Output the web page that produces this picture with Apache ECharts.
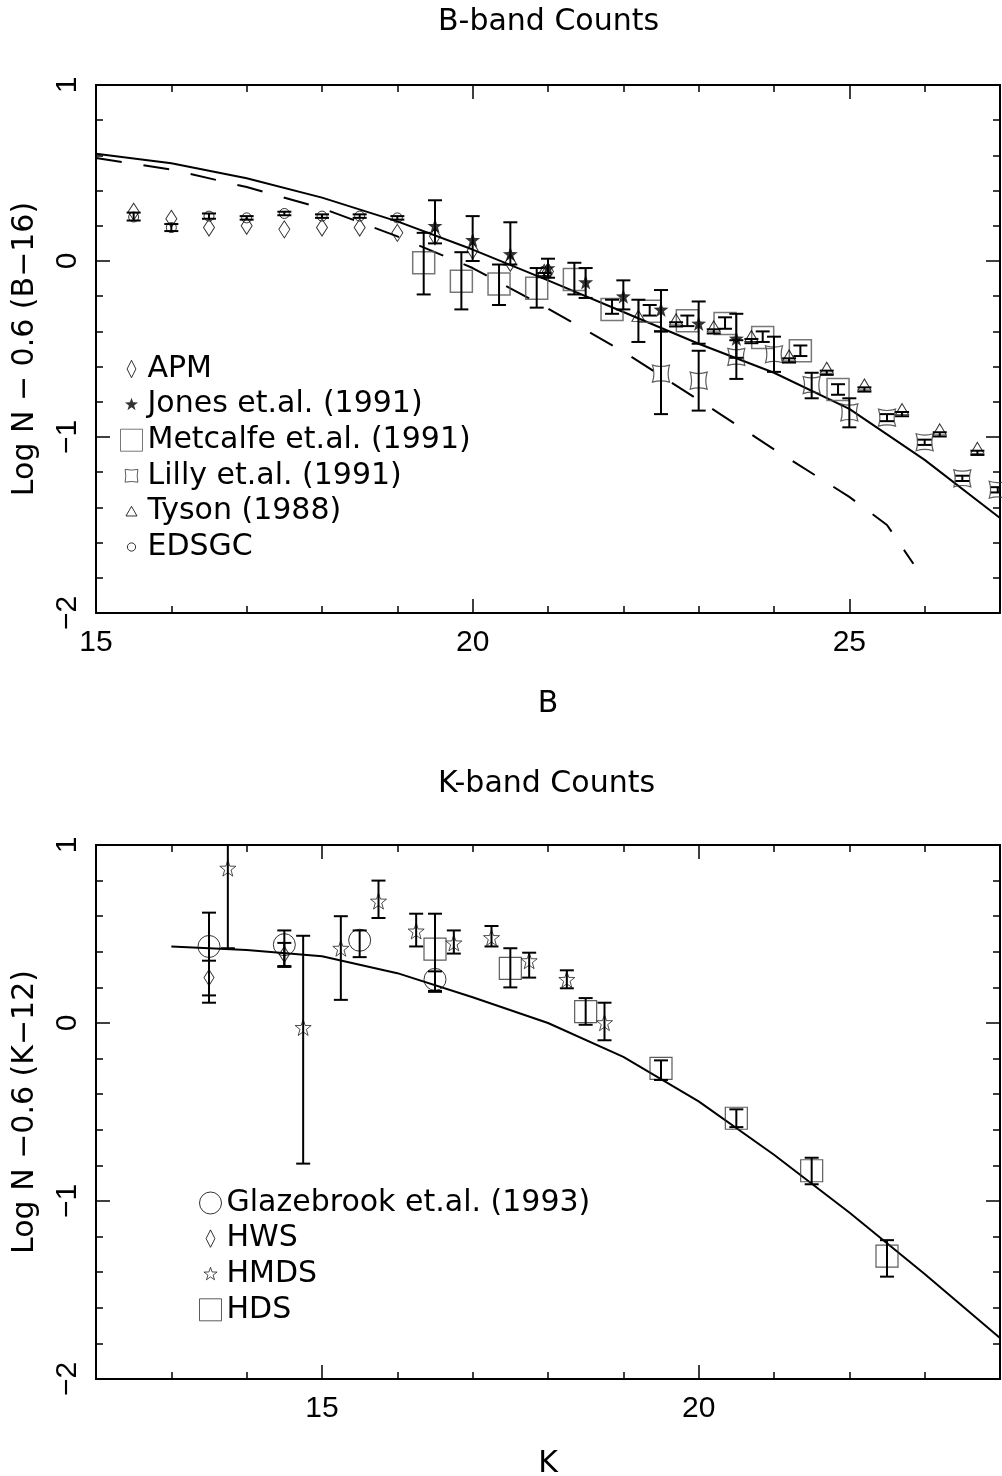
<!DOCTYPE html>
<html>
<head>
<meta charset="utf-8">
<script src="https://cdn.jsdelivr.net/npm/echarts@6/dist/echarts.min.js"></script>
<style>
  html, body { margin: 0; padding: 0; background: #fff; }
  #chart { width: 1002px; height: 1476px; }
</style>
</head>
<body>
<div id="chart"></div>
<script>
// ---------------- B-band counts: rows are [B, value, lower, upper] ----------------
const apm = [[15.5,0.28],[16,0.24],[16.5,0.19],[17,0.20],[17.5,0.18],[18,0.19],[18.5,0.19],[19,0.16],[19.5,0.14],[20,0.06],[20.5,-0.01],[21,-0.06]];
const edsgc = [[15.5,0.25,0.23,0.275],[16,0.19,0.17,0.21],[16.5,0.255,0.24,0.27],[17,0.245,0.235,0.255],[17.5,0.27,0.26,0.28],[18,0.255,0.245,0.265],[18.5,0.255,0.245,0.265],[19,0.245,0.235,0.255]];
const jones = [[19.5,0.20,0.10,0.345],[20,0.12,0.0,0.255],[20.5,0.04,-0.02,0.22],[21,-0.04,-0.095,0.013],[21.5,-0.12,-0.21,-0.04],[22,-0.2,-0.275,-0.11],[22.5,-0.275,-0.4,-0.165],[23,-0.355,-0.47,-0.23],[23.5,-0.44,-0.55,-0.30]];
const metcalfe = [[19.35,-0.01,-0.19,0.16],[19.85,-0.115,-0.275,0.05],[20.35,-0.13,-0.25,-0.02],[20.85,-0.155,-0.265,-0.04],[21.35,-0.105,-0.19,-0.01],[21.85,-0.275,-0.30,-0.22],[22.35,-0.285,-0.31,-0.25],[22.85,-0.34,-0.37,-0.31],[23.35,-0.355,-0.385,-0.32],[23.85,-0.435,-0.46,-0.40],[24.35,-0.51,-0.54,-0.48],[24.85,-0.73,-0.76,-0.70]];
const lilly = [[22.5,-0.64,-0.87,-0.40],[23,-0.68,-0.85,-0.51],[23.5,-0.545,-0.67,-0.45],[24,-0.53,-0.63,-0.43],[24.5,-0.705,-0.78,-0.635],[25,-0.86,-0.945,-0.78],[25.5,-0.89,-0.91,-0.87],[26,-1.03,-1.045,-1.015],[26.5,-1.235,-1.25,-1.22],[26.97,-1.3,-1.315,-1.285]];
const tyson = [[20.95,-0.08,-0.092,-0.068],[22.2,-0.34,-0.46,-0.22],[22.7,-0.36,-0.372,-0.348],[23.2,-0.40,-0.412,-0.388],[23.7,-0.455,-0.467,-0.443],[24.2,-0.565,-0.577,-0.553],[24.7,-0.635,-0.647,-0.623],[25.2,-0.73,-0.742,-0.718],[25.7,-0.87,-0.882,-0.858],[26.2,-0.985,-0.997,-0.973],[26.7,-1.09,-1.102,-1.078]];

// model curves in B
const bModelMag = [15,16,17,18,19,20,21,22,23,24,25,26,27];
const bModelSolid = [0.61,0.555,0.47,0.36,0.225,0.065,-0.11,-0.29,-0.47,-0.635,-0.84,-1.13,-1.46];
const bModelDashMag = [15,16,17,18,19,20,21,22,23,24,25,25.5,25.85];
const bModelDash = [0.585,0.52,0.42,0.30,0.14,-0.04,-0.27,-0.515,-0.79,-1.07,-1.34,-1.5,-1.72];

// ---------------- K-band counts: rows are [K, value, lower, upper] ----------------
const glazebrook = [[13.5,0.43,0.155,0.62],[14.5,0.44,0.315,0.52],[15.5,0.465,0.37,0.52],[16.5,0.245,0.175,0.29]];
const hws = [[13.5,0.255,0.114,0.35],[14.5,0.385,0.32,0.45]];
const hmds = [[13.75,0.87,0.42,1.0],[14.75,-0.025,-0.79,0.49],[15.25,0.42,0.13,0.6],[15.75,0.685,0.59,0.8],[16.25,0.517,0.43,0.614],[16.75,0.45,0.39,0.52],[17.25,0.48,0.43,0.545],[17.75,0.35,0.255,0.395],[18.25,0.245,0.195,0.296],[18.75,0.002,-0.097,0.114]];
const hds = [[16.5,0.415,0.18,0.614],[17.5,0.307,0.2,0.42],[18.5,0.064,-0.01,0.14],[19.5,-0.255,-0.32,-0.21],[20.5,-0.535,-0.585,-0.485],[21.5,-0.83,-0.906,-0.757],[22.5,-1.31,-1.425,-1.22]];

const kModelMag = [13,14,15,16,17,18,19,20,21,22,23,24];
const kModel = [0.43,0.41,0.375,0.28,0.145,0.0,-0.19,-0.44,-0.74,-1.065,-1.41,-1.77];

// axis tick labels
const bTickLabels = [15,20,25];
const kTickLabels = [15,20];
const yTickLabels = [-2,-1,0,1];

// ---------------- styling helpers ----------------
const TXT = 'DejaVu Sans';
const NUM = 'Liberation Sans';
const BLACK = '#000';
const fmtNum = v => (v < 0 ? '\u2212' + Math.abs(v) : String(v));

function starPath(cx, cy, R, r) {
  let d = '';
  for (let k = 0; k < 10; k++) {
    const a = -Math.PI / 2 + k * Math.PI / 5;
    const rad = k % 2 ? r : R;
    d += (k ? 'L' : 'M') + (cx + rad * Math.cos(a)).toFixed(2) + ',' + (cy + rad * Math.sin(a)).toFixed(2) + ' ';
  }
  return d + 'Z';
}
const STAR = 'path://' + starPath(10, 10, 10, 4);
const LILLY = 'path://M0,0 Q5,1.6 10,0 Q8.4,5 10,10 Q5,8.4 0,10 Q1.6,5 0,0 Z';

// legend icons share a 24x24 box so that small glyphs stay small
const PAD = 'M0,0 M24,24 ';
const ICON = {
  diamond: 'path://' + PAD + 'M12,2.5 L16.8,12 L12,21.5 L7.2,12 Z',
  star: 'path://' + PAD + starPath(12, 12, 7.5, 3),
  square: 'path://M1,1 L23,1 L23,23 L1,23 Z',
  lilly: 'path://' + PAD + 'M5,5 Q12,6.6 19,5 Q17.4,12 19,19 Q12,17.4 5,19 Q6.6,12 5,5 Z',
  triangle: 'path://' + PAD + 'M12,6.5 L18,17 L6,17 Z',
  dot: 'path://' + PAD + 'M16.5,12 A4.5,4.5 0 1 1 7.5,12 A4.5,4.5 0 1 1 16.5,12 Z',
  ring: 'path://M23,12 A11,11 0 1 1 1,12 A11,11 0 1 1 23,12 Z'
};

const hollow = (c, w) => ({ color: 'none', borderColor: c || BLACK, borderWidth: w || 1 });
const tickLine = { color: BLACK, width: 1.5 };

// frame axes: main axes carry the short ticks and labels, the overlay axes the long ticks
function xAxes(g, range, labels, name, nameGap) {
  const main = ['bottom', 'top'].map((pos, k) => ({
    gridIndex: g, type: 'value', position: pos, min: range[0], max: range[1], interval: 1,
    axisLine: { show: true, onZero: false, lineStyle: { color: BLACK, width: 2 } },
    axisTick: { show: true, inside: true, length: 7, lineStyle: tickLine },
    axisLabel: { show: k === 0, customValues: labels, margin: 15, color: BLACK, fontFamily: NUM, fontSize: 30,
      formatter: v => (labels.indexOf(v) >= 0 ? fmtNum(v) : '') },
    splitLine: { show: false },
    name: k === 0 ? name : '', nameLocation: 'middle', nameGap: nameGap,
    nameTextStyle: { color: BLACK, fontFamily: TXT, fontSize: 30 }
  }));
  const major = ['bottom', 'top'].map(pos => ({
    gridIndex: g + 1, type: 'value', position: pos, min: range[0], max: range[1],
    axisLine: { show: false, onZero: false },
    axisTick: { show: true, inside: true, length: 14, customValues: labels, lineStyle: tickLine },
    axisLabel: { show: false }, splitLine: { show: false }
  }));
  return main.concat(major);
}
function yAxes(g, name, nameGap) {
  const main = ['left', 'right'].map((pos, k) => ({
    gridIndex: g, type: 'value', position: pos, min: -2, max: 1, interval: 0.2,
    axisLine: { show: true, onZero: false, lineStyle: { color: BLACK, width: 2 } },
    axisTick: { show: true, inside: true, length: 7, lineStyle: tickLine },
    axisLabel: { show: k === 0, customValues: yTickLabels, rotate: 90, margin: 13, color: BLACK, fontFamily: NUM, fontSize: 30,
      formatter: v => (yTickLabels.indexOf(Math.round(v * 100) / 100) >= 0 ? fmtNum(Math.round(v)) : '') },
    splitLine: { show: false },
    name: k === 0 ? name : '', nameLocation: 'middle', nameGap: nameGap,
    nameTextStyle: { color: BLACK, fontFamily: TXT, fontSize: 30 }
  }));
  const major = ['left', 'right'].map(pos => ({
    gridIndex: g + 1, type: 'value', position: pos, min: -2, max: 1,
    axisLine: { show: false, onZero: false },
    axisTick: { show: true, inside: true, length: 14, customValues: yTickLabels, lineStyle: tickLine },
    axisLabel: { show: false }, splitLine: { show: false }
  }));
  return main.concat(major);
}

function errorBars(data, ax, cap, width) {
  return {
    type: 'custom', xAxisIndex: ax, yAxisIndex: ax, data: data, z: 3, clip: true, silent: true,
    renderItem: function (params, api) {
      const x = api.value(0);
      const lo = api.coord([x, api.value(2)]);
      const hi = api.coord([x, api.value(3)]);
      const st = { stroke: BLACK, lineWidth: width, fill: null };
      const h = cap / 2;
      return {
        type: 'group', children: [
          { type: 'line', shape: { x1: lo[0], y1: lo[1], x2: hi[0], y2: hi[1] }, style: st },
          { type: 'line', shape: { x1: lo[0] - h, y1: lo[1], x2: lo[0] + h, y2: lo[1] }, style: st },
          { type: 'line', shape: { x1: hi[0] - h, y1: hi[1], x2: hi[0] + h, y2: hi[1] }, style: st }
        ]
      };
    }
  };
}
function points(name, data, ax, symbol, size, itemStyle, extra) {
  return Object.assign({
    type: 'scatter', name: name, xAxisIndex: ax, yAxisIndex: ax, data: data, z: 2, silent: true,
    symbol: symbol, symbolSize: size, itemStyle: itemStyle
  }, extra || {});
}
function curve(xs, ys, ax, dashed) {
  return {
    type: 'line', xAxisIndex: ax, yAxisIndex: ax, data: xs.map((x, i) => [x, ys[i]]),
    symbol: 'none', silent: true, z: 1, clip: true,
    lineStyle: { color: BLACK, width: 2, type: dashed ? [26, 22] : 'solid' }
  };
}

const legendText = { fontFamily: TXT, fontSize: 30, color: BLACK };
const gridBox = (top, height) => ({ left: 96, top: top, width: 904, height: height, containLabel: false, outerBoundsMode: 'none' });

const option = {
  animation: false,
  backgroundColor: '#fff',
  title: [
    { text: 'B-band Counts', left: 433, top: 2, textStyle: { fontFamily: TXT, fontSize: 30, fontWeight: 'normal', color: BLACK } },
    { text: 'K-band Counts', left: 433, top: 764, textStyle: { fontFamily: TXT, fontSize: 30, fontWeight: 'normal', color: BLACK } }
  ],
  grid: [gridBox(85, 528), gridBox(85, 528), gridBox(845, 534), gridBox(845, 534)],
  xAxis: xAxes(0, [15, 27], bTickLabels, 'B', 76).concat(xAxes(2, [12, 24], kTickLabels, 'K', 70)),
  yAxis: yAxes(0, 'Log N \u2212 0.6 (B\u221216)', 56).concat(yAxes(2, 'Log N \u22120.6 (K\u221212)', 56)),
  legend: [
    {
      left: 118, top: 354, padding: 0, orient: 'vertical', itemWidth: 22, itemHeight: 22, itemGap: 5.6,
      selectedMode: false, textStyle: legendText, itemStyle: { borderWidth: 1 },
      data: [
        { name: 'APM', icon: ICON.diamond },
        { name: 'Jones et.al. (1991)', icon: ICON.star },
        { name: 'Metcalfe et.al. (1991)', icon: ICON.square },
        { name: 'Lilly et.al. (1991)', icon: ICON.lilly },
        { name: 'Tyson (1988)', icon: ICON.triangle },
        { name: 'EDSGC', icon: ICON.dot }
      ]
    },
    {
      left: 197, top: 1188, padding: 0, orient: 'vertical', itemWidth: 22, itemHeight: 22, itemGap: 5.6,
      selectedMode: false, textStyle: legendText, itemStyle: { borderWidth: 1 },
      data: [
        { name: 'Glazebrook et.al. (1993)', icon: ICON.ring },
        { name: 'HWS', icon: ICON.diamond },
        { name: 'HMDS', icon: ICON.star },
        { name: 'HDS', icon: ICON.square }
      ]
    }
  ],
  series: [
    // B band
    curve(bModelMag, bModelSolid, 0, false),
    curve(bModelDashMag, bModelDash, 0, true),
    points('APM', apm, 0, 'diamond', [11, 17], hollow()),
    points('EDSGC', edsgc, 0, 'circle', 10, hollow()),
    errorBars(edsgc, 0, 14, 2),
    points('Jones et.al. (1991)', jones, 0, STAR, 15, { color: BLACK }),
    errorBars(jones, 0, 14, 2),
    points('Metcalfe et.al. (1991)', metcalfe, 0, 'rect', 22, hollow('#555', 1.5)),
    errorBars(metcalfe, 0, 14, 2),
    points('Lilly et.al. (1991)', lilly, 0, LILLY, 17, hollow('#333', 1.2)),
    errorBars(lilly, 0, 14, 2),
    points('Tyson (1988)', tyson, 0, 'triangle', [13, 11], hollow(), { symbolOffset: [0, -5] }),
    errorBars(tyson, 0, 14, 2),
    // K band
    curve(kModelMag, kModel, 4, false),
    points('Glazebrook et.al. (1993)', glazebrook, 4, 'circle', 22, hollow()),
    errorBars(glazebrook, 4, 14, 2),
    points('HWS', hws, 4, 'diamond', [10, 16], hollow()),
    errorBars(hws, 4, 14, 2),
    points('HMDS', hmds, 4, STAR, 16, hollow('#222', 1)),
    errorBars(hmds, 4, 14, 2),
    points('HDS', hds, 4, 'rect', 22, hollow('#333', 1.2)),
    errorBars(hds, 4, 14, 2)
  ]
};

const chart = echarts.init(document.getElementById('chart'));
chart.setOption(option);
</script>
</body>
</html>
